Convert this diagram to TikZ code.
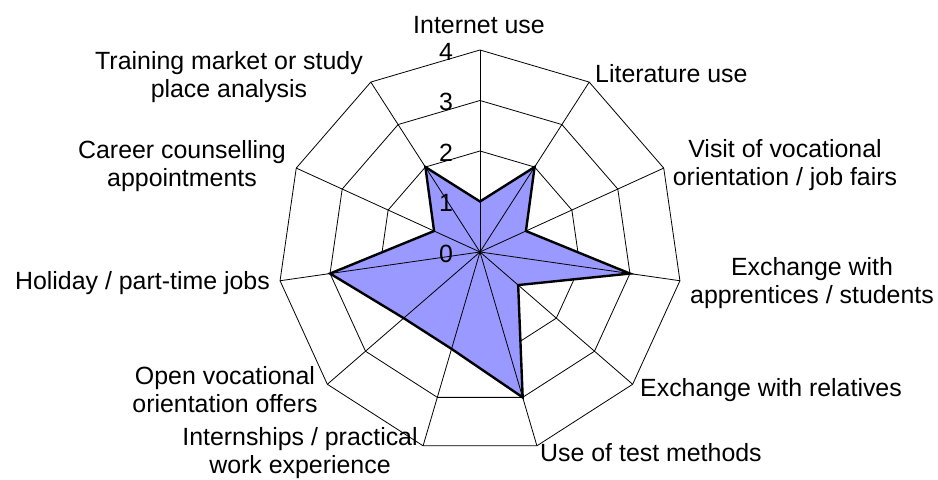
\documentclass[tikz,border=0pt]{standalone}
\usepackage{fontspec}
\setmainfont{Liberation Sans}
\usepackage{tkz-euclide}
\definecolor{starfill}{RGB}{153,153,255}
\tikzset{
  grid line/.style={black, line width=0.8bp},
  star line/.style={black, line width=2.4bp, line join=miter},
  axis label/.style={font=\fontsize{25}{28.5}\selectfont, inner sep=0pt, align=center},
  scale label/.style={font=\fontsize{25}{28.5}\selectfont, inner sep=0pt}
}

\begin{document}
\begin{tikzpicture}[x=1bp,y=1bp]
  \useasboundingbox (-480,-228) rectangle (458,252);

  \tkzDefPoint(0,0){O}
  % ring points, one unit = 50.5
  \foreach \i in {0,...,10}{
    \pgfmathsetmacro\ang{90-\i*360/11}
    \foreach \r in {1,...,4}{
      \pgfmathsetmacro\rad{\r*50.5}
      \tkzDefShiftPoint[O](\ang:\rad){R\r-\i}
    }
  }

  % rings
  \foreach \r in {1,...,4}{
    \draw[grid line] (R\r-0) \foreach \i in {1,...,10}{ -- (R\r-\i)} -- cycle;
  }

  % values 1 2 1 3 1 3 2 2 3 1 2
  \tkzFillPolygon[fill=starfill](R1-0,R2-1,R1-2,R3-3,R1-4,R3-5,R2-6,R2-7,R3-8,R1-9,R2-10)

  % spokes
  \foreach \i in {0,...,10}{ \draw[grid line] (O) -- (R4-\i); }

  \tkzDrawPolygon[star line](R1-0,R2-1,R1-2,R3-3,R1-4,R3-5,R2-6,R2-7,R3-8,R1-9,R2-10)

  % scale
  \foreach \r in {0,...,4}{
    \node[scale label] (s\r) at (-34,\r*50.5-1.5) {\r};
  }

  % axis labels (base = last line)
  \node[axis label, anchor=base] (inet) at (-1,218) {Internet use};
  \node[axis label, anchor=base west] (lit) at (115,169) {Literature use};
  \node[axis label, anchor=base] (fair) at (305,66.5) {Visit of vocational\\orientation / job fairs};
  \node[axis label, anchor=base] (appr) at (332,-51.5) {Exchange with\\apprentices / students};
  \node[axis label, anchor=base west] (rel) at (160,-145) {Exchange with relatives};
  \node[axis label, anchor=base west] (test) at (60,-210) {Use of test methods};
  \node[axis label, anchor=base] (intern) at (-180,-221.5) {Internships / practical\\work experience};
  \node[axis label, anchor=base] (open) at (-255,-160.5) {Open vocational\\orientation offers};
  \node[axis label, anchor=base east] (job) at (-210,-38) {Holiday / part-time jobs};
  \node[axis label, anchor=base] (coun) at (-298,65.5) {Career counselling\\appointments};
  \node[axis label, anchor=base] (mkt) at (-251,154.5) {Training market or study\\place analysis};

\end{tikzpicture}
\end{document}
